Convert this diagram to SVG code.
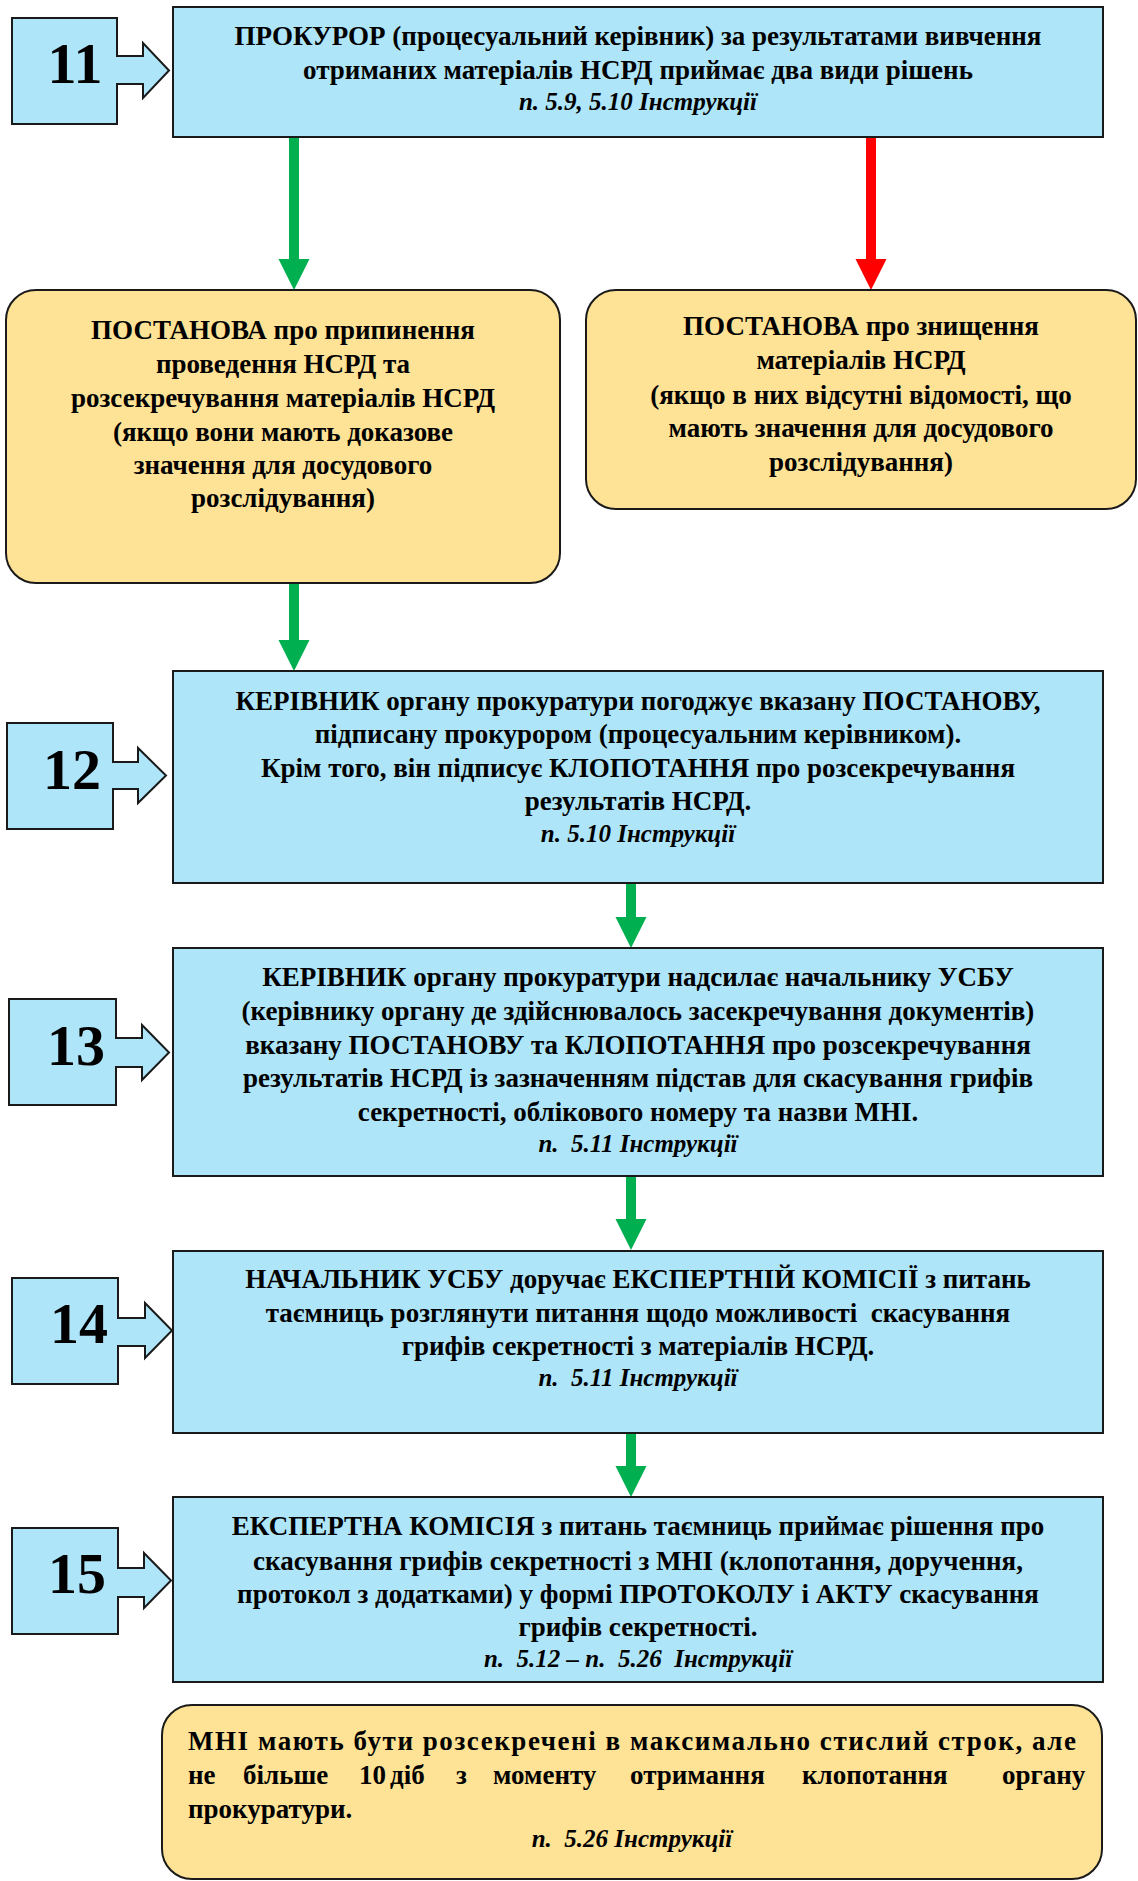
<svg xmlns="http://www.w3.org/2000/svg" width="1138" height="1881" viewBox="0 0 1138 1881">
<defs>
<marker id="ag" markerUnits="userSpaceOnUse" markerWidth="32" markerHeight="32" refX="0" refY="15.5" orient="auto" viewBox="0 0 32 32"><path d="M0,0 L31,15.5 L0,31 Z" fill="#00B050"/></marker>
<marker id="ar" markerUnits="userSpaceOnUse" markerWidth="32" markerHeight="32" refX="0" refY="15.5" orient="auto" viewBox="0 0 32 32"><path d="M0,0 L31,15.5 L0,31 Z" fill="#FF0000"/></marker>
</defs>
<rect width="1138" height="1881" fill="#ffffff"/>

<g id="connectors" fill="none" stroke-width="10">
<line stroke="#00B050" x1="294" y1="137" x2="294" y2="259" marker-end="url(#ag)"/>
<line stroke="#FF0000" x1="871" y1="137" x2="871" y2="259" marker-end="url(#ar)"/>
<line stroke="#00B050" x1="294" y1="583" x2="294" y2="640" marker-end="url(#ag)"/>
<line stroke="#00B050" x1="631" y1="883" x2="631" y2="917" marker-end="url(#ag)"/>
<line stroke="#00B050" x1="631" y1="1176" x2="631" y2="1219" marker-end="url(#ag)"/>
<line stroke="#00B050" x1="631" y1="1433" x2="631" y2="1466" marker-end="url(#ag)"/>
</g>

<g font-weight="bold" font-size="58" text-anchor="middle">
<g id="badge11">
<path fill="#AEE5F9" stroke="#1a1a1a" stroke-width="2" d="M12,18 H117 V56 H143 V43 L169,70.5 L143,98 V84 H117 V124 H12 Z"/>
<text x="75" y="83" style="font-family:'Liberation Serif',Tinos,'Times New Roman',serif">11</text>
</g>
<g id="badge12">
<path fill="#AEE5F9" stroke="#1a1a1a" stroke-width="2" d="M7,723 H113 V762 H138 V748 L166,775.5 L138,803 V789 H113 V829 H7 Z"/>
<text x="72" y="789" style="font-family:'Liberation Serif',Tinos,'Times New Roman',serif">12</text>
</g>
<g id="badge13">
<path fill="#AEE5F9" stroke="#1a1a1a" stroke-width="2" d="M9,999 H116 V1038 H142 V1025 L169,1052.5 L142,1080 V1067 H116 V1105 H9 Z"/>
<text x="76" y="1065" style="font-family:'Liberation Serif',Tinos,'Times New Roman',serif">13</text>
</g>
<g id="badge14">
<path fill="#AEE5F9" stroke="#1a1a1a" stroke-width="2" d="M12,1278 H118 V1318 H145 V1303 L172,1330.5 L145,1358 V1346 H118 V1384 H12 Z"/>
<text x="79" y="1343" style="font-family:'Liberation Serif',Tinos,'Times New Roman',serif">14</text>
</g>
<g id="badge15">
<path fill="#AEE5F9" stroke="#1a1a1a" stroke-width="2" d="M12,1528 H118 V1568 H144 V1553 L171,1580.5 L144,1608 V1597 H118 V1634 H12 Z"/>
<text x="77" y="1593" style="font-family:'Liberation Serif',Tinos,'Times New Roman',serif">15</text>
</g>
</g>

<g font-weight="bold" font-size="27" text-anchor="middle">
<g id="box11">
<rect fill="#AEE5F9" stroke="#1a1a1a" stroke-width="2" x="173" y="7" width="930" height="130"/>
<text x="638" y="45" style="font-family:'Liberation Serif',Tinos,'Times New Roman',serif">ПРОКУРОР (процесуальний керівник) за результатами вивчення</text>
<text x="638" y="79" style="font-family:'Liberation Serif',Tinos,'Times New Roman',serif">отриманих матеріалів НСРД приймає два види рішень</text>
<text x="638" y="110" font-style="italic" font-size="25" style="font-family:'Liberation Serif',Tinos,'Times New Roman',serif">п. 5.9, 5.10 Інструкції</text>
</g>

<g id="decisionLeft">
<rect fill="#FEE295" stroke="#1a1a1a" stroke-width="2" x="6" y="290" width="554" height="293" rx="30"/>
<text x="283" y="339" style="font-family:'Liberation Serif',Tinos,'Times New Roman',serif">ПОСТАНОВА про припинення</text>
<text x="283" y="373" style="font-family:'Liberation Serif',Tinos,'Times New Roman',serif">проведення НСРД та</text>
<text x="283" y="407" style="font-family:'Liberation Serif',Tinos,'Times New Roman',serif">розсекречування матеріалів НСРД</text>
<text x="283" y="441" style="font-family:'Liberation Serif',Tinos,'Times New Roman',serif">(якщо вони мають доказове</text>
<text x="283" y="474" style="font-family:'Liberation Serif',Tinos,'Times New Roman',serif">значення для досудового</text>
<text x="283" y="507" style="font-family:'Liberation Serif',Tinos,'Times New Roman',serif">розслідування)</text>
</g>

<g id="decisionRight">
<rect fill="#FEE295" stroke="#1a1a1a" stroke-width="2" x="586" y="290" width="550" height="219" rx="30"/>
<text x="861" y="335" style="font-family:'Liberation Serif',Tinos,'Times New Roman',serif">ПОСТАНОВА про знищення</text>
<text x="861" y="369" style="font-family:'Liberation Serif',Tinos,'Times New Roman',serif">матеріалів НСРД</text>
<text x="861" y="404" style="font-family:'Liberation Serif',Tinos,'Times New Roman',serif">(якщо в них відсутні відомості, що</text>
<text x="861" y="437" style="font-family:'Liberation Serif',Tinos,'Times New Roman',serif">мають значення для досудового</text>
<text x="861" y="471" style="font-family:'Liberation Serif',Tinos,'Times New Roman',serif">розслідування)</text>
</g>

<g id="box12">
<rect fill="#AEE5F9" stroke="#1a1a1a" stroke-width="2" x="173" y="671" width="930" height="212"/>
<text x="638" y="710" style="font-family:'Liberation Serif',Tinos,'Times New Roman',serif">КЕРІВНИК органу прокуратури погоджує вказану ПОСТАНОВУ,</text>
<text x="638" y="743" style="font-family:'Liberation Serif',Tinos,'Times New Roman',serif">підписану прокурором (процесуальним керівником).</text>
<text x="638" y="777" style="font-family:'Liberation Serif',Tinos,'Times New Roman',serif">Крім того, він підписує КЛОПОТАННЯ про розсекречування</text>
<text x="638" y="810" style="font-family:'Liberation Serif',Tinos,'Times New Roman',serif">результатів НСРД.</text>
<text x="638" y="842" font-style="italic" font-size="25" style="font-family:'Liberation Serif',Tinos,'Times New Roman',serif">п. 5.10 Інструкції</text>
</g>

<g id="box13">
<rect fill="#AEE5F9" stroke="#1a1a1a" stroke-width="2" x="173" y="948" width="930" height="228"/>
<text x="638" y="986" style="font-family:'Liberation Serif',Tinos,'Times New Roman',serif">КЕРІВНИК органу прокуратури надсилає начальнику УСБУ</text>
<text x="638" y="1020" style="font-family:'Liberation Serif',Tinos,'Times New Roman',serif">(керівнику органу де здійснювалось засекречування документів)</text>
<text x="638" y="1054" style="font-family:'Liberation Serif',Tinos,'Times New Roman',serif">вказану ПОСТАНОВУ та КЛОПОТАННЯ про розсекречування</text>
<text x="638" y="1087" style="font-family:'Liberation Serif',Tinos,'Times New Roman',serif">результатів НСРД із зазначенням підстав для скасування грифів</text>
<text x="638" y="1121" style="font-family:'Liberation Serif',Tinos,'Times New Roman',serif">секретності, облікового номеру та назви МНІ.</text>
<text x="638" y="1152" font-style="italic" font-size="25" style="font-family:'Liberation Serif',Tinos,'Times New Roman',serif">п.&#160; 5.11 Інструкції</text>
</g>

<g id="box14">
<rect fill="#AEE5F9" stroke="#1a1a1a" stroke-width="2" x="173" y="1251" width="930" height="182"/>
<text x="638" y="1288" style="font-family:'Liberation Serif',Tinos,'Times New Roman',serif">НАЧАЛЬНИК УСБУ доручає ЕКСПЕРТНІЙ КОМІСІЇ з питань</text>
<text x="638" y="1322" style="font-family:'Liberation Serif',Tinos,'Times New Roman',serif">таємниць розглянути питання щодо можливості&#160; скасування</text>
<text x="638" y="1355" style="font-family:'Liberation Serif',Tinos,'Times New Roman',serif">грифів секретності з матеріалів НСРД.</text>
<text x="638" y="1386" font-style="italic" font-size="25" style="font-family:'Liberation Serif',Tinos,'Times New Roman',serif">п.&#160; 5.11 Інструкції</text>
</g>

<g id="box15">
<rect fill="#AEE5F9" stroke="#1a1a1a" stroke-width="2" x="173" y="1497" width="930" height="185"/>
<text x="638" y="1535" style="font-family:'Liberation Serif',Tinos,'Times New Roman',serif">ЕКСПЕРТНА КОМІСІЯ з питань таємниць приймає рішення про</text>
<text x="638" y="1570" style="font-family:'Liberation Serif',Tinos,'Times New Roman',serif">скасування грифів секретності з МНІ (клопотання, доручення,</text>
<text x="638" y="1603" style="font-family:'Liberation Serif',Tinos,'Times New Roman',serif">протокол з додатками) у формі ПРОТОКОЛУ і АКТУ скасування</text>
<text x="638" y="1636" style="font-family:'Liberation Serif',Tinos,'Times New Roman',serif">грифів секретності.</text>
<text x="638" y="1667" font-style="italic" font-size="25" style="font-family:'Liberation Serif',Tinos,'Times New Roman',serif">п.&#160; 5.12 – п.&#160; 5.26&#160; Інструкції</text>
</g>

<g id="note">
<rect fill="#FEE295" stroke="#1a1a1a" stroke-width="2" x="162" y="1705" width="940" height="174" rx="30"/>
<text x="188" y="1750" text-anchor="start" textLength="888" lengthAdjust="spacing" style="font-family:'Liberation Serif',Tinos,'Times New Roman',serif">МНІ мають бути розсекречені в максимально стислий строк, але</text>
<text y="1784" text-anchor="start" style="font-family:'Liberation Serif',Tinos,'Times New Roman',serif"><tspan x="188">не</tspan> <tspan x="243">більше</tspan> <tspan x="359">10</tspan> <tspan x="390">діб</tspan> <tspan x="456">з</tspan> <tspan x="493">моменту</tspan> <tspan x="630">отримання</tspan> <tspan x="802">клопотання</tspan> <tspan x="1002">органу</tspan></text>
<text x="188" y="1818" text-anchor="start" style="font-family:'Liberation Serif',Tinos,'Times New Roman',serif">прокуратури.</text>
<text x="632" y="1847" font-style="italic" font-size="25" style="font-family:'Liberation Serif',Tinos,'Times New Roman',serif">п.&#160; 5.26 Інструкції</text>
</g>
</g>
</svg>
